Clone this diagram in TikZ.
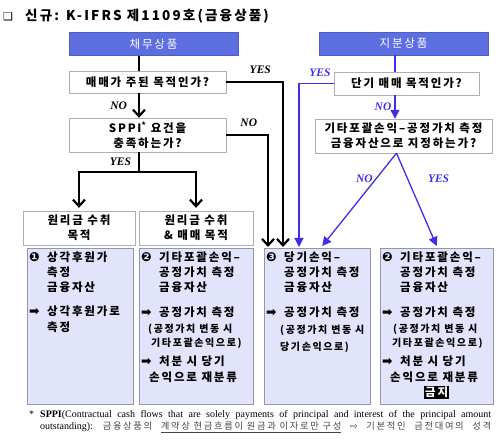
\documentclass[tikz,border=0pt]{standalone}
\usepackage{fontspec}
\setmainfont{Liberation Serif}
\newfontfamily\krfont[LetterSpace=16]{Noto Sans CJK KR}
\newfontfamily\krsmall[LetterSpace=18]{Noto Sans CJK KR}
\newfontfamily\dvs{DejaVu Sans}
\usetikzlibrary{arrows.meta,positioning}

\definecolor{hdrblue}{RGB}{92,110,224}
\definecolor{arrblue}{RGB}{62,46,234}
\definecolor{resfill}{RGB}{225,228,250}
\definecolor{resline}{RGB}{148,150,172}
\definecolor{qline}{RGB}{175,175,175}
\definecolor{notegray}{RGB}{70,70,70}

\newcommand{\bul}[1]{\makebox[18pt][l]{\dvs\fontsize{12.5}{15}\selectfont#1}}
\newcommand{\cont}{\hspace*{18pt}}
\newcommand{\sm}{\fontsize{10}{14}\selectfont}

\tikzset{
  hdrbox/.style={rectangle,fill=hdrblue,draw=hdrblue!85!black,text=white,minimum height=23pt,inner sep=0,font=\krfont\fontsize{11.5}{13}\selectfont},
  qbox/.style={rectangle,draw=qline,fill=white,align=center,inner sep=0,font=\krfont\bfseries\fontsize{11.5}{15}\selectfont},
  resbox/.style={rectangle,draw=resline,fill=resfill,anchor=north west,inner sep=0,minimum height=156pt},
  restext/.style={anchor=north west,align=left,inner sep=0,font=\krfont\bfseries\fontsize{11.5}{15}\selectfont},
  blkline/.style={line width=2.2pt},
  blk/.style={line width=2.2pt,-{Straight Barb[length=6.5pt,width=12pt]}},
  bluline/.style={arrblue,line width=1.3pt},
  blu/.style={arrblue,line width=1.3pt,-{Triangle[length=9pt,width=9pt]}},
  yn/.style={font=\fontsize{11.5}{12}\selectfont\bfseries\itshape,inner sep=0}
}

\begin{document}
\begin{tikzpicture}[x=1pt,y=-1pt]
    \useasboundingbox (0,0) rectangle (503,446);

    % title
    \node[anchor=west,inner sep=0,font=\krfont\bfseries\fontsize{13.5}{16}\selectfont] (title) at (3,16)
        {\makebox[22pt][l]{\dvs\fontsize{11}{12}\selectfont ❑}신규: K-IFRS 제1109호(금융상품)};

    % debt side
    \coordinate (spine) at (139,0);
    \node[hdrbox,minimum width=169pt] (debt) at (153.5,44) {채무상품};
    \node[qbox,minimum width=157pt,minimum height=22pt] (trade) at (147.5,82) {매매가 주된 목적인가?};
    \node[qbox,minimum width=157pt,minimum height=34pt] (sppi) at (147.5,135) {SPPI\textsuperscript{*} 요건을\\충족하는가?};
    \node[qbox,minimum width=112pt,minimum height=34pt] (cash) at (79,228) {원리금 수취\\목적};
    \node[qbox,minimum width=114pt,minimum height=34pt] (cashsell) at (196,228) {원리금 수취\\\& 매매 목적};

    % equity side
    \coordinate (bspine) at (395,0);
    \node[hdrbox,minimum width=169pt] (equity) at (403.5,43.5) {지분상품};
    \node[qbox,minimum width=145pt,minimum height=23pt] (short) at (406.5,83.5) {단기 매매 목적인가?};
    \node[qbox,minimum width=177pt,minimum height=34pt] (oci) at (403.5,136) {기타포괄손익–공정가치 측정\\금융자산으로 지정하는가?};

    % result boxes
    \node[resbox,minimum width=106pt] (amort) at (27,248) {};
    \node[resbox,minimum width=114pt] (fvoci) at (139,248) {};
    \node[resbox,minimum width=106pt] (fvpl) at (264,248) {};
    \node[resbox,minimum width=113pt] (fvocieq) at (380,248) {};

    \node[restext] (amortt) at ([shift={(2,4)}]amort.north west)
        {\bul{❶}상각후원가\\ \cont 측정\\ \cont 금융자산\\[9pt]
         \bul{➡}상각후원가로\\[1pt] \cont 측정};
    \node[restext] (fvocit) at ([shift={(2,4)}]fvoci.north west)
        {\bul{❷}기타포괄손익–\\ \cont 공정가치 측정\\ \cont 금융자산\\[10pt]
         \bul{➡}공정가치 측정\\[1pt]
         \hspace*{7pt}{\sm (공정가치 변동 시}\\[-1pt]
         \hspace*{10pt}{\sm 기타포괄손익으로)}\\[4pt]
         \bul{➡}처분 시 당기\\[1pt]
         \hspace*{8pt}손익으로 재분류};
    \node[restext] (fvplt) at ([shift={(2,4)}]fvpl.north west)
        {\bul{❸}당기손익–\\ \cont 공정가치 측정\\ \cont 금융자산\\[10pt]
         \bul{➡}공정가치 측정\\[2pt]
         \hspace*{14pt}{\sm (공정가치 변동 시}\\[2pt]
         \hspace*{14pt}{\sm 당기손익으로)}};
    \node[restext] (fvocieqt) at ([shift={(2,4)}]fvocieq.north west)
        {\bul{❷}기타포괄손익–\\ \cont 공정가치 측정\\ \cont 금융자산\\[10pt]
         \bul{➡}공정가치 측정\\[1pt]
         \hspace*{11pt}{\sm (공정가치 변동 시}\\[-1pt]
         \hspace*{10pt}{\sm 기타포괄손익으로)}\\[4pt]
         \bul{➡}처분 시 당기\\[1pt]
         \hspace*{8pt}손익으로 재분류\\
         \hspace*{42pt}{\fboxsep=1pt\colorbox{black}{\textcolor{white}{금지}}}};

    % debt connectors
    \draw[blkline] (debt.south -| spine) -- (trade.north -| spine);
    \draw[blk] (trade.south -| spine) -- (sppi.north -| spine) node[yn,midway,left=11pt]{NO};
    \draw[blkline] (sppi.south -| spine) -- ++(0,20) coordinate (fork) node[yn,midway,left=7pt]{YES};
    \draw[blk] (fork) -| ([yshift=3pt]cash.north);
    \draw[blk] (fork) -| ([yshift=3pt]cashsell.north);
    \coordinate (nodrop) at (268,0);
    \coordinate (yesdrop) at (283,0);
    \draw[blk] (trade.east) -| ([yshift=1pt]fvpl.north -| yesdrop) node[yn,pos=0.3,above=7pt]{YES};
    \draw[blk] (sppi.east) -| ([yshift=1pt]fvpl.north -| nodrop) node[yn,pos=0.27,above=7pt]{NO};

    % equity connectors
    \coordinate (byesdrop) at (299,0);
    \draw[bluline] (equity.south -| bspine) -- (short.north -| bspine);
    \draw[blu] (short.south -| bspine) -- (oci.north -| bspine) node[yn,arrblue,midway,left=3pt]{NO};
    \draw[blu] (short.west) -| ([yshift=1pt]fvpl.north -| byesdrop) node[yn,arrblue,pos=0.2,above=6pt]{YES};
    \coordinate (ocifork) at ([xshift=-7pt]oci.south);
    \draw[blu] (ocifork) -- ([shift={(5,-2)}]fvpl.north) node[yn,arrblue,pos=0.27,left=3pt]{NO};
    \draw[blu] (ocifork) -- ([yshift=2pt]fvocieq.north) node[yn,arrblue,pos=0.27,right=20pt]{YES};

    % footnote
    \node[anchor=north west,inner sep=0,text width=462pt,align=justify,font=\fontsize{10}{12.5}\selectfont] (note) at (29,410)
        {\parfillskip=0pt\hangindent=11pt\hangafter=1\makebox[11pt][l]{*}\textbf{SPPI}(Contractual cash flows that are solely payments of principal and interest of the principal amount\linebreak
         outstanding): {\krsmall\fontsize{9.3}{12}\selectfont\color{notegray}금융상품의 \underline{계약상 현금흐름이 원금과 이자로만 구성} {\dvs ⇨} 기본적인 금전대여의 성격}\par};
\end{tikzpicture}
\end{document}
